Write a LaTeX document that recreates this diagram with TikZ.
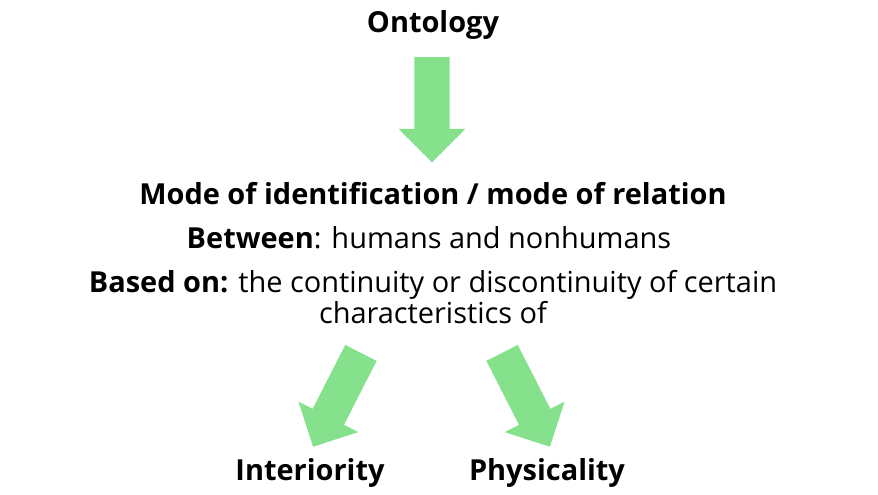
\documentclass[tikz,border=0pt]{standalone}
\usepackage{fontspec}
\setmainfont{Open Sans}
\usetikzlibrary{shapes.arrows}
\definecolor{arrowgreen}{RGB}{134,225,141}

\begin{document}
\begin{tikzpicture}[x=0.75pt,y=0.75pt]

      \useasboundingbox (0,0) rectangle (878,494);

      \begin{scope}[every node/.style={anchor=base,inner sep=0pt,font=\fontsize{21.7}{26}\selectfont}]
        \node (onto)  at (433,461) {\textbf{Ontology}};
        \node (mode)  at (433,290) {\textbf{Mode of identification / mode of relation}};
        \node (betw)  at (429,246) {\textbf{Between}: humans and nonhumans};
        \node (based) at (433,202) {\textbf{Based on:} the continuity or discontinuity of certain};
        \node (chars) at (433,171) {characteristics of};
        \node (inter) at (310,14)  {\textbf{Interiority}};
        \node (phys)  at (547,14)  {\textbf{Physicality}};
      \end{scope}

      \begin{scope}[every node/.style={single arrow,fill=arrowgreen,draw=none,
          inner xsep=0pt,inner ysep=13pt,minimum height=79pt,single arrow head extend=12pt}]
        \node[rotate=-90]  (down)  at (432,393) {};
        \node[rotate=-117] (left)  at (341,102) {};
        \node[rotate=-63]  (right) at (522,102) {};
      \end{scope}

    \end{tikzpicture}
\end{document}
